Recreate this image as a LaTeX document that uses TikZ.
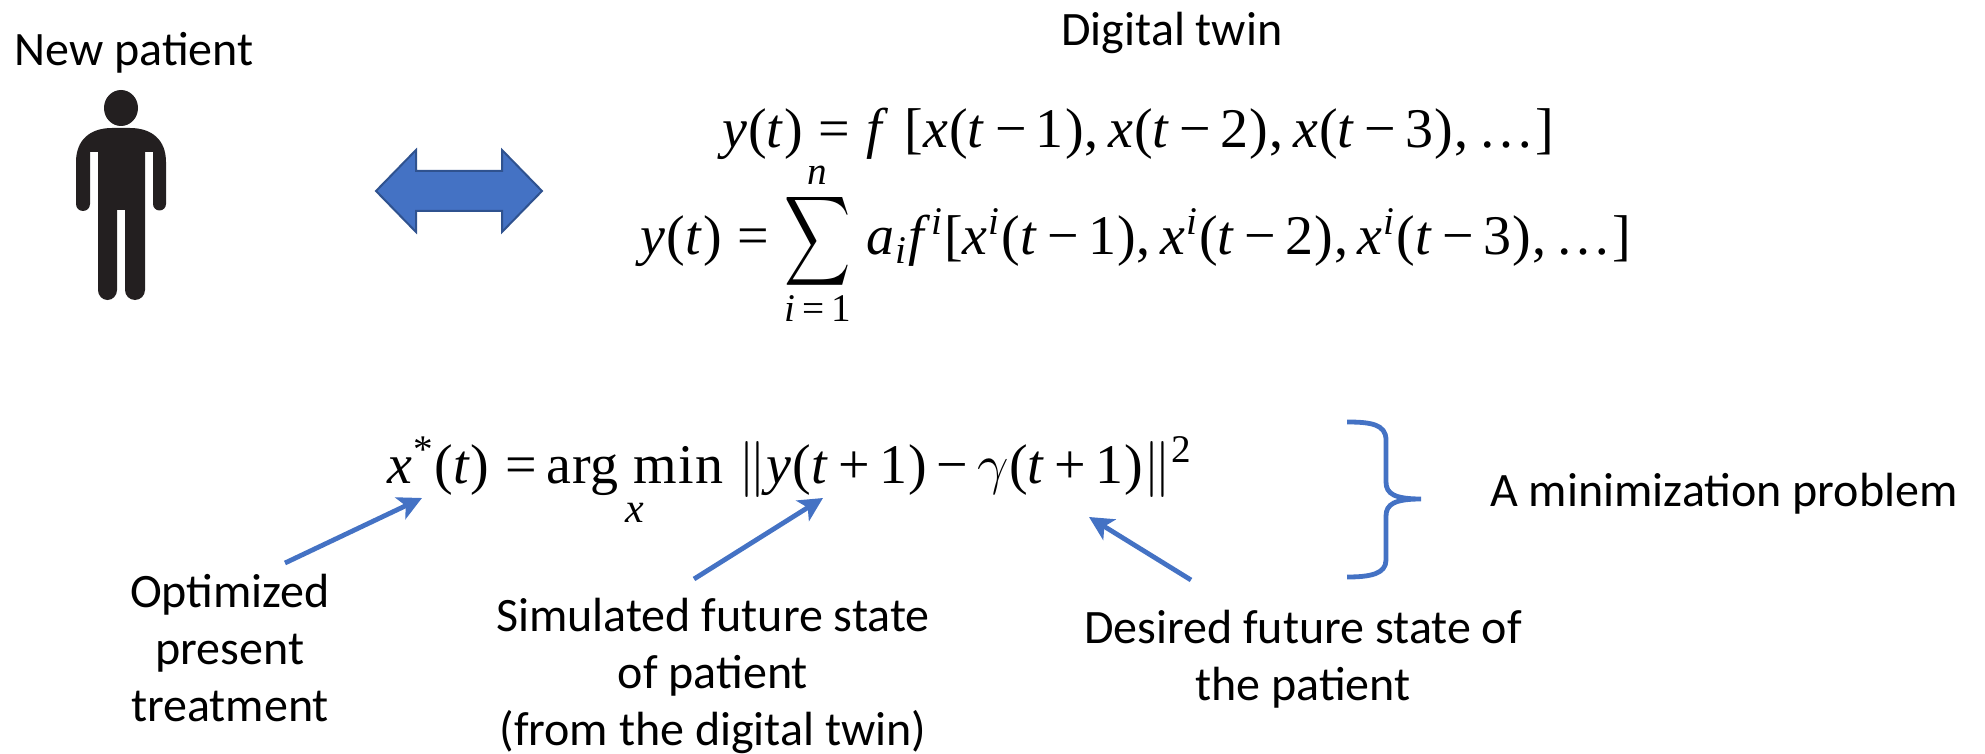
\documentclass[tikz,border=0pt]{standalone}
\usepackage{amsmath,amssymb,graphicx}
\usepackage{fix-cm}
\usepackage{fontspec}
\setmainfont{Carlito}
\newfontfamily\mfont{Liberation Serif}[LetterSpace=2]
\usetikzlibrary{arrows.meta}
\definecolor{bluefill}{HTML}{4472C4}
\definecolor{blueedge}{HTML}{2F528F}
\definecolor{personblack}{HTML}{231F20}
\newcommand\I[1]{\textit{#1}}
\newcommand\Sp[1]{\textsuperscript{#1}}
\newcommand\Eq{\;=\;}
\newcommand\Mi{\,\textminus\,}
\newcommand\Pl{\,+\,}
\newcommand\BigSum{\mathop{\vcenter{\vbox to 45pt{\vss\hbox{\scalebox{0.82}[1.12]{$\displaystyle\sum$}}\vss}}}}
\tikzset{
  lbl/.style={inner sep=0pt,align=center,font=\fontsize{24}{28.5}\selectfont,text=black},
  eqn/.style={inner sep=0pt,anchor=base,font=\mfont\fontsize{28}{32}\selectfont,text=black},
  eqnsmall/.style={inner sep=0pt,anchor=base,font=\mfont\fontsize{21}{24}\selectfont,text=black},
  pointer/.style={draw=bluefill,line width=2.4pt,-{Stealth[length=12pt,width=12pt,inset=3pt]}},
  bracket/.style={draw=bluefill,line width=2.4pt},
}
\begin{document}
\begin{tikzpicture}[x=0.5pt,y=-0.5pt]
\useasboundingbox (0,0) rectangle (1985,754);
% labels
\node[lbl,anchor=base] (newp) at (134,66) {New patient};
\node[lbl,anchor=base] (twin) at (1172,46) {Digital twin};
\node[lbl,anchor=base] (minp) at (1724,506) {A minimization problem};
\node[lbl,anchor=center] (opt) at (230,648) {Optimized\\present\\treatment};
\node[lbl,anchor=center] (sim) at (713,676) {Simulated future state\\of patient\\(from the digital twin)};
\node[lbl,anchor=center] (des) at (1303,659) {Desired future state of\\the patient};
% person
\fill[personblack] (121,108) ellipse[x radius=17,y radius=18];
\fill[personblack] (112,128) -- (130,128)
  .. controls (152,128) and (166,140) .. (166,162)
  -- (166,204) arc[start angle=0,end angle=180,radius=6.5] -- (153,152) -- (145,152)
  -- (145,290) arc[start angle=0,end angle=180,x radius=10,y radius=10] -- (125,210) -- (117,210)
  -- (117,290) arc[start angle=0,end angle=180,x radius=9.5,y radius=10] -- (98,152) -- (90,152)
  -- (90,204) arc[start angle=0,end angle=180,radius=7] -- (76,162)
  .. controls (76,140) and (90,128) .. (112,128) -- cycle;
% double arrow
\filldraw[fill=bluefill,draw=blueedge,line width=1pt] (376,191) -- (416,150) -- (416,171) -- (502,171) -- (502,150) -- (542,191) -- (502,232) -- (502,211) -- (416,211) -- (416,232) -- cycle;
% equations
\node[eqn] (eqa) at (1138,148) {\I{y}(\I{t})\Eq\I{f}\;[\I{x}(\I{t}\Mi1),\,\I{x}(\I{t}\Mi2),\,\I{x}(\I{t}\Mi3),\,\dots]};
\node[eqn] (eqb) at (1136,255) {\I{y}(\I{t})\Eq$\BigSum\limits_{\text{\I{i}}\,\text{=}\,\text{1}}^{\text{\I{n}}}$\;\I{a}$_{\text{\I{i}}}$\I{f}\Sp{\I{i}}[\I{x}\Sp{\I{i}}(\I{t}\Mi1),\,\I{x}\Sp{\I{i}}(\I{t}\Mi2),\,\I{x}\Sp{\I{i}}(\I{t}\Mi3),\,\dots]};
\node[eqn] (eqc) at (790,483) {\I{x}\Sp{*}(\I{t})\;=\,arg min\;$\|$\I{y}(\I{t}\Pl1)\Mi\I{$\gamma$}(\I{t}\Pl1)$\|$\Sp{2}};
\node[eqnsmall] (eqx) at (635,522) {\I{x}};
% pointers
\coordinate (aopt) at (285,563);
\coordinate (tipa) at (422,498);
\coordinate (asim) at (694,579);
\coordinate (tipb) at (823,498);
\coordinate (ades) at (1191,580);
\coordinate (tipc) at (1089,517);
\draw[pointer] (aopt) -- (tipa);
\draw[pointer] (asim) -- (tipb);
\draw[pointer] (ades) -- (tipc);
% brace
\draw[bracket] (1347,422) .. controls (1370,422) and (1386,424) .. (1386,440)
  -- (1386,482) .. controls (1386,494) and (1395,499) .. (1421,499)
  .. controls (1395,499) and (1386,504) .. (1386,516)
  -- (1386,560) .. controls (1386,574) and (1370,577) .. (1347,577);
\end{tikzpicture}
\end{document}
